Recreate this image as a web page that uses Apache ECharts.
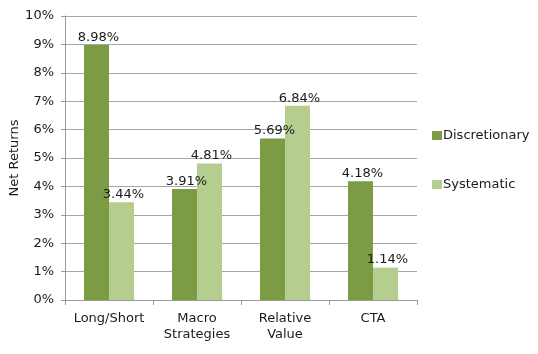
<!DOCTYPE html>
<html>
<head>
<meta charset="utf-8">
<script src="https://cdn.jsdelivr.net/npm/echarts@6/dist/echarts.min.js"></script>
<style>
  html, body { margin: 0; padding: 0; background: #fff; }
  #chart { width: 538px; height: 354px; }
</style>
</head>
<body>
<div id="chart"></div>
<script>
// strategy groups along the x axis
var categories = ['Long/Short', 'Macro\nStrategies', 'Relative\nValue', 'CTA']
// net returns in percent
var discretionary = [8.98, 3.91, 5.69, 4.18]
var systematic = [3.44, 4.81, 6.84, 1.14]
var yTicks = [0, 1, 2, 3, 4, 5, 6, 7, 8, 9, 10]

var font = 'DejaVu Sans'
var textColor = '#1a1a1a'

function barLabel () {
  return {
    show: true,
    position: 'top',
    distance: 1,
    offset: [2, 0],
    color: textColor,
    fontFamily: font,
    fontSize: 13,
    formatter: function (p) { return p.value.toFixed(2) + '%' }
  }
}

var chart = echarts.init(document.getElementById('chart'))
chart.setOption({
  animation: false,
  textStyle: { fontFamily: font },
  grid: { left: 65, right: 121, top: 16, bottom: 54, outerBoundsMode: 'none' },
  legend: {
    orient: 'vertical',
    left: 427,
    top: 124,
    itemGap: 36,
    itemWidth: 10,
    itemHeight: 9,
    icon: 'rect',
    textStyle: { color: textColor, fontSize: 13, fontFamily: font, padding: [0, 0, 0, -4] },
    data: ['Discretionary', 'Systematic']
  },
  xAxis: {
    type: 'category',
    data: categories,
    axisLine: { lineStyle: { color: '#999' } },
    axisTick: { show: true, length: 5, lineStyle: { color: '#999' } },
    axisLabel: { interval: 0, color: textColor, fontSize: 13, fontFamily: font, lineHeight: 16, margin: 11 }
  },
  yAxis: {
    type: 'value',
    min: yTicks[0],
    max: yTicks[yTicks.length - 1],
    interval: 1,
    name: 'Net Returns',
    nameLocation: 'middle',
    nameGap: 44,
    nameMoveOverlap: false,
    nameTextStyle: { color: textColor, fontSize: 13, fontFamily: font },
    axisLine: { show: true, lineStyle: { color: '#999' } },
    axisTick: { show: true, length: 4, lineStyle: { color: '#999' } },
    splitLine: { lineStyle: { color: '#a6a6a6' } },
    axisLabel: { color: textColor, fontSize: 13, fontFamily: font, margin: 11, formatter: '{value}%' }
  },
  series: [
    {
      name: 'Discretionary',
      type: 'bar',
      data: discretionary,
      barWidth: 25,
      barGap: '0%',
      itemStyle: { color: '#7b9b44' },
      label: barLabel()
    },
    {
      name: 'Systematic',
      type: 'bar',
      data: systematic,
      barWidth: 25,
      barGap: '0%',
      itemStyle: { color: '#b5cd8e' },
      label: barLabel()
    }
  ]
})
</script>
</body>
</html>
